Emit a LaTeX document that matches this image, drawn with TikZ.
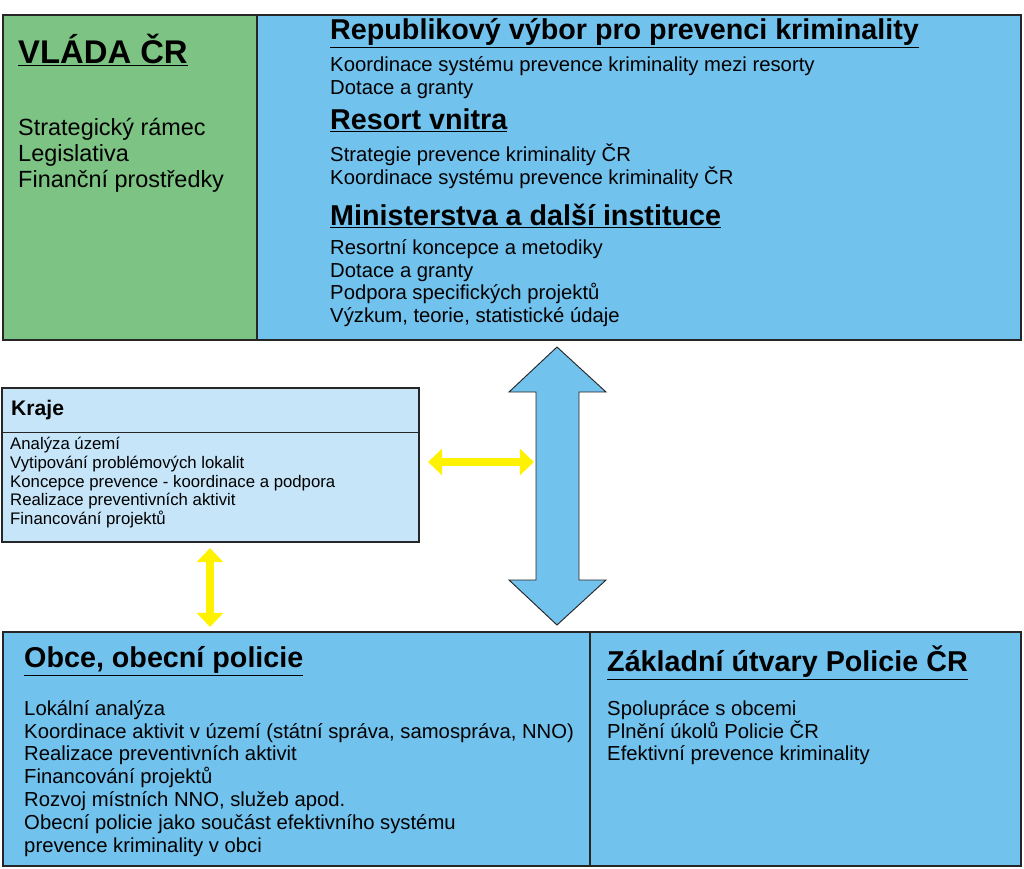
\documentclass[tikz,border=0pt]{standalone}
\usepackage{fontspec}
\setmainfont{Liberation Sans}
\usetikzlibrary{arrows.meta}
\definecolor{grn}{HTML}{7DC383}
\definecolor{blu}{HTML}{72C2EE}
\definecolor{lblu}{HTML}{C6E5F8}
\definecolor{yel}{HTML}{FFF200}
\tikzset{
 box/.style={draw=black!85, line width=1pt},
 txt/.style={anchor=north west, align=left, inner sep=0pt},
 body/.style={txt, font=\fontsize{17.3}{19.5}\selectfont},
 small/.style={txt, font=\fontsize{14.3}{16}\selectfont},
 head/.style={txt, font=\fontsize{24.5}{26}\selectfont\bfseries},
 yarrow/.style={draw=yel, line width=7pt, {Triangle[length=12pt,width=22pt]}-{Triangle[length=12pt,width=22pt]}}
}
\begin{document}
\begin{tikzpicture}[x=0.03cm,y=-0.03cm]
\useasboundingbox (0,0) rectangle (1024,869);
% top boxes
\path[box, fill=grn] (3,15) rectangle (257,340);
\path[box, fill=blu] (257,15) rectangle (1021,340);
\node[txt, font=\fontsize{28}{30}\selectfont\bfseries] (vl) at (18,34) {\underline{VLÁDA ČR}};
\node[txt, font=\fontsize{20}{22}\selectfont] (vlt) at (18,118) {Strategický rámec\\Legislativa\\Finanční prostředky};
\node[head] (h1) at (330,18) {\underline{Republikový výbor pro prevenci kriminality}};
\node[body] (b1) at (330,56) {Koordinace systému prevence kriminality mezi resorty\\Dotace a granty};
\node[head] (h2) at (330,108) {\underline{Resort vnitra}};
\node[body] (b2) at (330,144) {Strategie prevence kriminality ČR\\Koordinace systému prevence kriminality ČR};
\node[head] (h3) at (330,204) {\underline{Ministerstva a další instituce}};
\node[body] (b3) at (330,239) {Resortní koncepce a metodiky\\Dotace a granty\\Podpora specifických projektů\\Výzkum, teorie, statistické údaje};
% kraje
\path[box, fill=lblu] (2,388) rectangle (419,542);
\draw[black!85, line width=0.8pt] (2,432) -- (419,432);
\node[txt, font=\fontsize{18}{20}\selectfont\bfseries] (kr) at (11,400) {Kraje};
\node[small] (krt) at (10,437) {Analýza území\\Vytipování problémových lokalit\\Koncepce prevence - koordinace a podpora\\Realizace preventivních aktivit\\Financování projektů};
% arrows
\coordinate (ya) at (428,462); \coordinate (yb) at (534,462);
\draw[yarrow] (ya) -- (yb);
\coordinate (yc) at (210,548); \coordinate (yd) at (210,627);
\draw[yarrow] (yc) -- (yd);
\path[draw=black!85, line width=0.8pt, fill=blu] (557,347) -- (606,392) -- (579,392) -- (579,580) -- (606,580) -- (557,625) -- (509,580) -- (536,580) -- (536,392) -- (509,392) -- cycle;
% bottom
\path[box, fill=blu] (3,632) rectangle (590,866);
\path[box, fill=blu] (590,632) rectangle (1021,866);
\node[head] (h4) at (24,646) {\underline{Obce, obecní policie}};
\node[body] (b4) at (24,700) {Lokální analýza\\Koordinace aktivit v území (státní správa, samospráva, NNO)\\Realizace preventivních aktivit\\Financování projektů\\Rozvoj místních NNO, služeb apod.\\Obecní policie jako součást efektivního systému\\prevence kriminality v obci};
\node[head] (h5) at (607,646) {\underline{Základní útvary Policie ČR}};
\node[body] (b5) at (607,700) {Spolupráce s obcemi\\Plnění úkolů Policie ČR\\Efektivní prevence kriminality};
\end{tikzpicture}
\end{document}
